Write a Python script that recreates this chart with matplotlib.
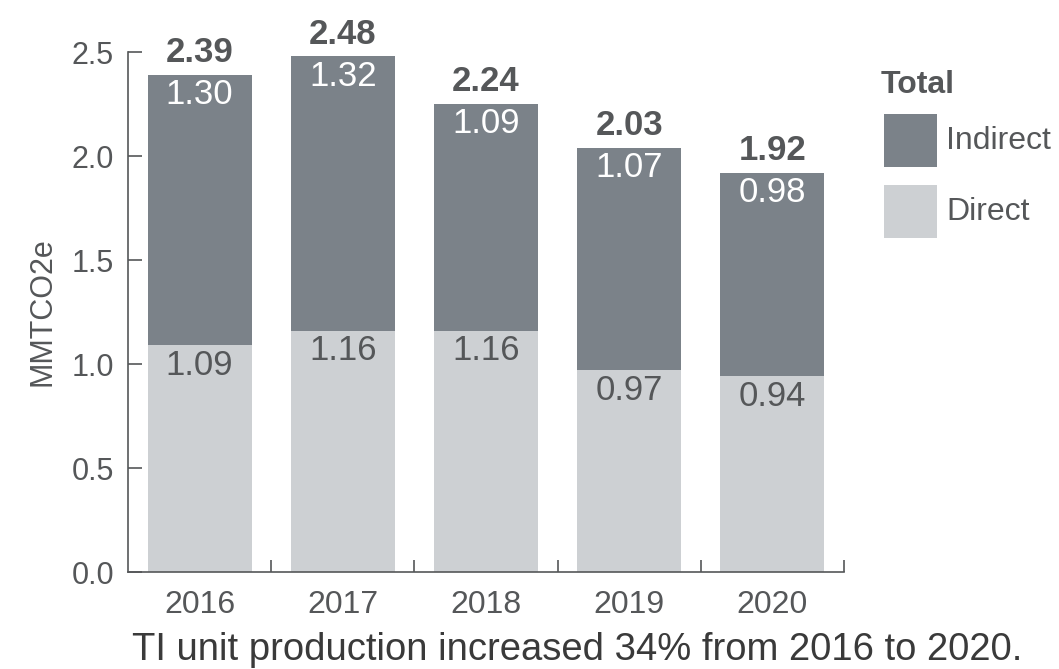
import matplotlib
matplotlib.use("Agg")
import matplotlib.pyplot as plt
from matplotlib.patches import Rectangle

years = ["2016", "2017", "2018", "2019", "2020"]
direct = [1.09, 1.16, 1.16, 0.97, 0.94]
indirect = [1.30, 1.32, 1.09, 1.07, 0.98]
totals = [2.39, 2.48, 2.24, 2.03, 1.92]
yticks = [0.0, 0.5, 1.0, 1.5, 2.0, 2.5]
legend_labels = ["Indirect", "Direct"]

C_IND = "#7b8289"
C_DIR = "#cdd0d3"
C_TXT = "#555759"

plt.rcParams['font.family'] = ['Liberation Sans', 'DejaVu Sans']

W, H = 1059, 669
fig = plt.figure(figsize=(W / 100, H / 100), dpi=100)
ax = fig.add_axes([128 / W, 1 - 572 / H, (844 - 128) / W, (572 - 52) / H])

x = list(range(len(years)))
bw = 0.727
ax.bar(x, direct, width=bw, color=C_DIR, zorder=2)
ax.bar(x, indirect, width=bw, bottom=direct, color=C_IND, zorder=2)

fs_bar = 25
for i in x:
    top = direct[i] + indirect[i]
    ax.annotate(f"{direct[i]:.2f}", (i, direct[i]), xytext=(0, -2.5), textcoords="offset points",
                ha="center", va="top", fontsize=fs_bar, color=C_TXT, zorder=3)
    ax.annotate(f"{indirect[i]:.2f}", (i, top), xytext=(0, -2.5), textcoords="offset points",
                ha="center", va="top", fontsize=fs_bar, color="white", zorder=3)
    ax.annotate(f"{totals[i]:.2f}", (i, top), xytext=(0, 4), textcoords="offset points",
                ha="center", va="bottom", fontsize=fs_bar, color=C_TXT, fontweight="bold",
                zorder=3, annotation_clip=False)

ax.set_xlim(-0.5, len(years) - 0.5)
ax.set_ylim(0, 2.5)
ax.set_yticks(yticks)
ax.set_yticklabels([f"{v:.1f}" for v in yticks])
ax.set_xticks(x)
ax.set_xticklabels(years)
ax.set_xticks([i + 0.5 for i in x], minor=True)

for s in ["top", "right"]:
    ax.spines[s].set_visible(False)
for s in ["left", "bottom"]:
    ax.spines[s].set_color(C_TXT)
    ax.spines[s].set_linewidth(1.2)

ax.tick_params(axis="y", direction="in", length=10, width=1.2, color=C_TXT,
               labelsize=22, labelcolor=C_TXT, pad=10)
ax.tick_params(axis="x", which="major", length=0, labelsize=23, labelcolor=C_TXT, pad=13)
ax.tick_params(axis="x", which="minor", direction="in", length=9, width=1.2, color=C_TXT)

ax.set_ylabel("MMTCO2e", fontsize=22, color=C_TXT, labelpad=10)

fig.text(577 / W, 1 - 660 / H, "TI unit production increased 34% from 2016 to 2020.",
         ha="center", va="baseline", fontsize=27.5, color="#3a3a3a")

# legend (figure pixel coordinates)
def fx(px):
    return px / W

def fy(py):
    return 1 - py / H

fig.text(fx(881), fy(85), "Total", ha="left", va="center", fontsize=23,
         fontweight="bold", color=C_TXT)
for k, (lab, col) in enumerate(zip(legend_labels, [C_IND, C_DIR])):
    y0 = 114 + k * 71
    fig.patches.append(Rectangle((fx(884), fy(y0 + 53)), 53 / W, 53 / H,
                                 transform=fig.transFigure, facecolor=col, edgecolor="none"))
    fig.text(fx(946), fy(y0 + 27), lab, ha="left", va="center", fontsize=23, color=C_TXT)

fig.savefig("out.png", dpi=100)
